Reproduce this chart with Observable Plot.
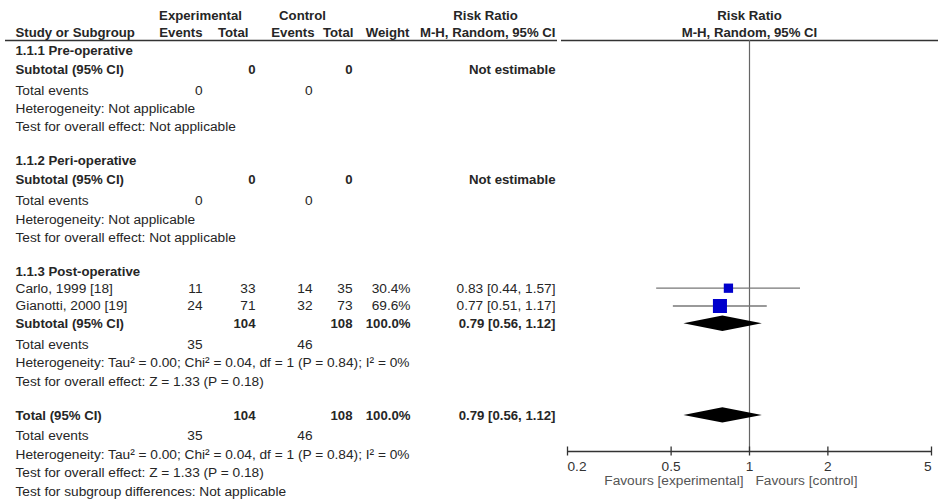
<!DOCTYPE html>
<html><head><meta charset="utf-8">
<script src="https://cdn.jsdelivr.net/npm/d3@7"></script>
<script src="https://cdn.jsdelivr.net/npm/@observablehq/plot@0.6"></script>
<style>
body{margin:0;background:#fff;}
#chart{position:relative;width:938px;height:502px;}
#chart svg{position:absolute;left:0;top:0;}
</style></head><body><div id="chart"></div>
<script>
// ---------- data ----------
const groupNames = ["1.1.1 Pre-operative", "1.1.2 Peri-operative", "1.1.3 Post-operative"];
const studyGroup = [2, 2];
const studyNames = ["Carlo, 1999 [18]", "Gianotti, 2000 [19]"];
const expEvents = [11, 24];
const expTotals = [33, 71];
const ctlEvents = [14, 32];
const ctlTotals = [35, 73];
const studyWeights = [30.4, 69.6];
const studyRR = [0.83, 0.77];
const studyLo = [0.44, 0.51];
const studyHi = [1.57, 1.17];
const subExpTotals = [0, 0, 104];
const subCtlTotals = [0, 0, 108];
const subExpEvents = [0, 0, 35];
const subCtlEvents = [0, 0, 46];
const subWeights = [null, null, 100.0];
const subRR = [null, null, 0.79];
const subLo = [null, null, 0.56];
const subHi = [null, null, 1.12];
const subHet = ["Heterogeneity: Not applicable", "Heterogeneity: Not applicable",
  "Heterogeneity: Tau\u00b2 = 0.00; Chi\u00b2 = 0.04, df = 1 (P = 0.84); I\u00b2 = 0%"];
const subTest = ["Test for overall effect: Not applicable", "Test for overall effect: Not applicable",
  "Test for overall effect: Z = 1.33 (P = 0.18)"];
const totalLabel = "Total (95% CI)";
const subtotalLabel = "Subtotal (95% CI)";
const eventsLabel = "Total events";
const totalExp = [104], totalCtl = [108], totalWeight = [100.0];
const totalRR = [0.79], totalLo = [0.56], totalHi = [1.12];
const totalExpEvents = [35], totalCtlEvents = [46];
const totalHet = "Heterogeneity: Tau\u00b2 = 0.00; Chi\u00b2 = 0.04, df = 1 (P = 0.84); I\u00b2 = 0%";
const totalTest = "Test for overall effect: Z = 1.33 (P = 0.18)";
const subgroupTest = "Test for subgroup differences: Not applicable";
const notEstimable = "Not estimable";
const axisTicks = [0.2, 0.5, 1, 2, 5];
const axisLabels = ["0.2", "0.5", "1", "2", "5"];
const favours = ["Favours [experimental]", "Favours [control]"];
const headerTop = ["Experimental", "Control", "Risk Ratio"];
const headerCols = ["Study or Subgroup", "Events", "Total", "Events", "Total", "Weight", "M-H, Random, 95% CI"];
const forestHeader = ["Risk Ratio", "M-H, Random, 95% CI"];

// ---------- layout ----------
const W = 938, H = 502;
const FONT = "'Liberation Sans', Arial, sans-serif";
const FS = 13.7, FSB = 13.2;
const TXT = "#262626";
const col = {study: 15, expEv: 202, expTot: 255, ctlEv: 312, ctlTot: 352, weight: 410, rr: 555};
const hcol = {study: 15, expEv: 202, expTot: 248, ctlEv: 314, ctlTot: 353, weight: 409, rr: 555,
  expTitle: 200, ctlTitle: 302, rrTitle: 485};
const headY = [15, 32];
const ruleYpos = 40;
const axisY = 451;
const forestRange = [567, 931];

const gapFor = (prev, kind) => {
  if (kind === "group") return prev === "header" ? 18 : 34;
  if (kind === "study") return prev === "group" ? 16.5 : 17.8;
  if (kind === "subtotal") return prev === "group" ? 19 : 17.8;
  if (kind === "events") return 20.7;
  if (kind === "het") return 18.5;
  if (kind === "test") return 18.4;
  if (kind === "total") return 34;
  if (kind === "subgroup") return 19;
  return 18;
};

const fmtRR = (r, l, h) => `${r.toFixed(2)} [${l.toFixed(2)}, ${h.toFixed(2)}]`;
const cells = [];   // {x, y, text, bold, anchor}
const studyPts = [];
const diamonds = [];
let y = headY[1], prev = "header";
const step = kind => { y += gapFor(prev, kind); prev = kind; return y; };

// header
cells.push({x: hcol.expTitle, y: headY[0], text: headerTop[0], bold: true, anchor: "middle"});
cells.push({x: hcol.ctlTitle, y: headY[0], text: headerTop[1], bold: true, anchor: "middle"});
cells.push({x: hcol.rrTitle, y: headY[0], text: headerTop[2], bold: true, anchor: "middle"});
const hKeys = ["study", "expEv", "expTot", "ctlEv", "ctlTot", "weight", "rr"];
headerCols.forEach((t, i) => cells.push({x: hcol[hKeys[i]], y: headY[1], text: t, bold: true, anchor: i === 0 ? "start" : "end"}));

groupNames.forEach((g, gi) => {
  cells.push({x: col.study, y: step("group"), text: g, bold: true, anchor: "start"});
  studyNames.forEach((s, si) => {
    if (studyGroup[si] !== gi) return;
    const yy = step("study");
    cells.push({x: col.study, y: yy, text: s, bold: false, anchor: "start"});
    cells.push({x: col.expEv, y: yy, text: String(expEvents[si]), bold: false, anchor: "end"});
    cells.push({x: col.expTot, y: yy, text: String(expTotals[si]), bold: false, anchor: "end"});
    cells.push({x: col.ctlEv, y: yy, text: String(ctlEvents[si]), bold: false, anchor: "end"});
    cells.push({x: col.ctlTot, y: yy, text: String(ctlTotals[si]), bold: false, anchor: "end"});
    cells.push({x: col.weight, y: yy, text: studyWeights[si].toFixed(1) + "%", bold: false, anchor: "end"});
    cells.push({x: col.rr, y: yy, text: fmtRR(studyRR[si], studyLo[si], studyHi[si]), bold: false, anchor: "end"});
    studyPts.push({y: yy, rr: studyRR[si], lo: studyLo[si], hi: studyHi[si], w: studyWeights[si]});
  });
  const ys = step("subtotal");
  cells.push({x: col.study, y: ys, text: subtotalLabel, bold: true, anchor: "start"});
  cells.push({x: col.expTot, y: ys, text: String(subExpTotals[gi]), bold: true, anchor: "end"});
  cells.push({x: col.ctlTot, y: ys, text: String(subCtlTotals[gi]), bold: true, anchor: "end"});
  if (subRR[gi] != null) {
    cells.push({x: col.weight, y: ys, text: subWeights[gi].toFixed(1) + "%", bold: true, anchor: "end"});
    cells.push({x: col.rr, y: ys, text: fmtRR(subRR[gi], subLo[gi], subHi[gi]), bold: true, anchor: "end"});
    diamonds.push({id: "g" + gi, y: ys, rr: subRR[gi], lo: subLo[gi], hi: subHi[gi]});
  } else {
    cells.push({x: col.rr, y: ys, text: notEstimable, bold: true, anchor: "end"});
  }
  const ye = step("events");
  cells.push({x: col.study, y: ye, text: eventsLabel, bold: false, anchor: "start"});
  cells.push({x: col.expEv, y: ye, text: String(subExpEvents[gi]), bold: false, anchor: "end"});
  cells.push({x: col.ctlEv, y: ye, text: String(subCtlEvents[gi]), bold: false, anchor: "end"});
  cells.push({x: col.study, y: step("het"), text: subHet[gi], bold: false, anchor: "start"});
  cells.push({x: col.study, y: step("test"), text: subTest[gi], bold: false, anchor: "start"});
});
const yt = step("total");
cells.push({x: col.study, y: yt, text: totalLabel, bold: true, anchor: "start"});
cells.push({x: col.expTot, y: yt, text: String(totalExp[0]), bold: true, anchor: "end"});
cells.push({x: col.ctlTot, y: yt, text: String(totalCtl[0]), bold: true, anchor: "end"});
cells.push({x: col.weight, y: yt, text: totalWeight[0].toFixed(1) + "%", bold: true, anchor: "end"});
cells.push({x: col.rr, y: yt, text: fmtRR(totalRR[0], totalLo[0], totalHi[0]), bold: true, anchor: "end"});
diamonds.push({id: "total", y: yt, rr: totalRR[0], lo: totalLo[0], hi: totalHi[0]});
const yte = step("events");
cells.push({x: col.study, y: yte, text: eventsLabel, bold: false, anchor: "start"});
cells.push({x: col.expEv, y: yte, text: String(totalExpEvents[0]), bold: false, anchor: "end"});
cells.push({x: col.ctlEv, y: yte, text: String(totalCtlEvents[0]), bold: false, anchor: "end"});
cells.push({x: col.study, y: step("het"), text: totalHet, bold: false, anchor: "start"});
cells.push({x: col.study, y: step("test"), text: totalTest, bold: false, anchor: "start"});
cells.push({x: col.study, y: step("subgroup"), text: subgroupTest, bold: false, anchor: "start"});

// ---------- table plot ----------
const textMarks = [];
for (const anchor of ["start", "middle", "end"]) {
  for (const bold of [false, true]) {
    const sub = cells.filter(c => c.anchor === anchor && c.bold === bold);
    if (!sub.length) continue;
    textMarks.push(Plot.text(sub, {x: "x", y: "y", text: "text", textAnchor: anchor,
      fontWeight: bold ? "bold" : "normal", fill: TXT, fontSize: bold ? FSB : FS}));
  }
}
const table = Plot.plot({
  width: W, height: H, margin: 0,
  x: {type: "identity", axis: null},
  y: {type: "identity", axis: null},
  style: {fontFamily: FONT, fontSize: FS + "px", background: "transparent"},
  marks: [
    Plot.ruleY([ruleYpos], {x1: 5, x2: 557, stroke: "#333", strokeWidth: 1.3}),
    Plot.ruleY([ruleYpos], {x1: 561, x2: W, stroke: "#333", strokeWidth: 1.3}),
    ...textMarks
  ]
});

// ---------- forest plot ----------
const diamondPts = diamonds.flatMap(d => [
  {id: d.id, x: d.lo, y1: d.y, y2: d.y},
  {id: d.id, x: d.rr, y1: d.y - 7.7, y2: d.y + 7.7},
  {id: d.id, x: d.hi, y1: d.y, y2: d.y}
]);
const tickData = axisTicks.map((t, i) => ({t, label: axisLabels[i],
  anchor: i === 0 ? "start" : i === axisTicks.length - 1 ? "end" : "middle"}));
const forest = Plot.plot({
  width: W, height: H, margin: 0,
  x: {type: "log", domain: [axisTicks[0], axisTicks[axisTicks.length - 1]], range: forestRange, axis: null},
  y: {type: "identity", axis: null},
  r: {type: "sqrt", domain: [0, 100], range: [0, 9.5]},
  style: {fontFamily: FONT, fontSize: FS + "px", background: "transparent"},
  marks: [
    Plot.text([forestHeader[0]], {x: 1, y: headY[0], text: d => d, fontWeight: "bold", fill: TXT, fontSize: FSB}),
    Plot.text([forestHeader[1]], {x: 1, y: headY[1], text: d => d, fontWeight: "bold", fill: TXT, fontSize: FSB}),
    Plot.ruleX([1], {y1: ruleYpos, y2: axisY, stroke: "#666", strokeWidth: 1.2}),
    Plot.ruleY(studyPts, {x1: "lo", x2: "hi", y: "y", stroke: "#777", strokeWidth: 1.3}),
    Plot.dot(studyPts, {x: "rr", y: "y", r: "w", symbol: "square", fill: "#0000cc", stroke: null}),
    Plot.areaY(diamondPts, {x: "x", y1: "y1", y2: "y2", z: "id", fill: "#000"}),
    Plot.ruleY([axisY], {x1: axisTicks[0], x2: axisTicks[axisTicks.length - 1], stroke: "#333", strokeWidth: 1.3}),
    Plot.ruleX(axisTicks, {x: d => d, y1: axisY - 4.5, y2: axisY + 4.5, stroke: "#333", strokeWidth: 1.3}),
    ...["start", "middle", "end"].map(a => Plot.text(tickData.filter(d => d.anchor === a),
      {x: "t", y: axisY + 15, text: "label", textAnchor: a, fill: "#333", fontSize: FS})),
    Plot.text([favours[0]], {x: 1, y: axisY + 29, dx: -6, text: d => d, textAnchor: "end", fill: "#555", fontSize: FS}),
    Plot.text([favours[1]], {x: 1, y: axisY + 29, dx: 6, text: d => d, textAnchor: "start", fill: "#555", fontSize: FS})
  ]
});
const host = document.getElementById("chart");
host.appendChild(table);
host.appendChild(forest);
</script></body></html>
